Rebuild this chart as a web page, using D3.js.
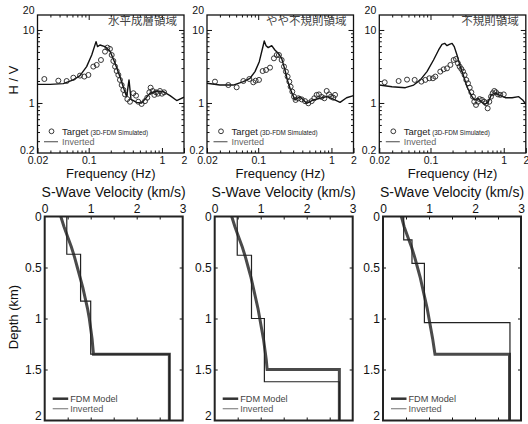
<!DOCTYPE html>
<html><head><meta charset="utf-8">
<script src="https://cdn.jsdelivr.net/npm/d3@7"></script>
<style>body{margin:0;background:#fff} svg{display:block;font-family:"Liberation Sans",Arial,sans-serif}</style>
</head><body><svg id="c" width="528" height="424"></svg>
<script>
// ---------- data ----------
const regionNames = ["水平成層領域", "やや不規則領域", "不規則領域"];
const freqTickValues = [0.02, 0.1, 1, 2];
const freqTickLabels = ["0.02", "0.1", "1", "2"];
const hvTickValues = [0.2, 1, 10, 20];
const hvTickLabels = ["0.2", "1", "10", "20"];
const velTickValues = [0, 1, 2, 3];
const depthTickValues = [0, 0.5, 1, 1.5, 2];
const depthTickLabels = ["0", "0.5", "1", "1.5", "2"];

const targetFreq1 = [0.0248,0.0385,0.05,0.0617,0.076,0.087,0.099,0.1156,0.1285,0.147,0.167,0.18,0.195,0.206,0.217,0.229,0.241,0.254,0.267,0.282,0.297,0.313,0.337,0.366,0.407,0.443,0.475,0.528,0.587,0.63,0.673,0.70,0.746,0.787,0.83,0.883,0.94,1.0,1.07];
const targetHV1 = [2.13,2.02,2.0,2.22,2.37,2.3,2.42,3.15,3.32,3.88,5.05,5.73,5.5,4.54,3.76,3.15,2.74,2.42,2.07,1.76,1.51,1.31,1.13,1.04,1.36,1.26,1.04,0.97,1.06,1.18,1.4,1.62,1.46,1.29,1.4,1.34,1.46,1.34,1.4];
const invFreq1 = [0.02,0.0297,0.045,0.0617,0.076,0.0937,0.11,0.126,0.132,0.1426,0.167,0.195,0.229,0.267,0.306,0.33,0.355,0.378,0.452,0.528,0.587,0.687,0.848,1.045,1.29,1.59,2.0];
const invHV1 = [1.8,1.8,1.84,2.07,2.37,3.15,4.54,6.92,5.91,6.23,5.91,5.16,3.49,2.29,1.51,1.22,2.07,1.12,1.02,1.0,1.13,1.36,1.46,1.43,1.26,1.08,1.2];

const targetFreq2 = [0.0257,0.0391,0.0508,0.0627,0.0757,0.0857,0.0923,0.1025,0.115,0.128,0.145,0.164,0.179,0.192,0.209,0.225,0.239,0.252,0.266,0.277,0.292,0.308,0.324,0.353,0.392,0.436,0.483,0.537,0.583,0.628,0.676,0.735,0.80,0.861,0.927,0.986,1.06,1.12];
const targetHV2 = [1.96,1.76,1.64,2.0,2.13,1.92,2.02,2.07,2.74,2.83,3.05,4.09,4.54,4.54,3.88,3.15,2.69,2.3,1.96,1.67,1.43,1.22,1.1,1.16,1.12,1.06,0.99,1.06,1.16,1.29,1.31,1.21,1.16,1.46,1.31,1.22,1.18,1.29];
const invFreq2 = [0.02,0.030,0.0457,0.0627,0.0773,0.0904,0.1035,0.1175,0.121,0.128,0.137,0.153,0.169,0.188,0.209,0.232,0.25,0.272,0.296,0.318,0.372,0.459,0.566,0.698,0.861,1.06,1.31,1.61,2.0];
const invHV2 = [1.86,1.76,1.76,1.96,2.18,2.69,3.68,6.23,7.07,6.1,5.73,6.1,5.32,4.79,4.09,2.83,2.07,1.59,1.29,1.1,1.22,0.99,1.1,1.16,1.22,1.13,1.02,1.18,1.26];

const targetFreq3 = [0.0237,0.0367,0.0478,0.0608,0.075,0.0849,0.0964,0.108,0.1164,0.136,0.151,0.168,0.187,0.207,0.223,0.237,0.25,0.264,0.278,0.292,0.308,0.325,0.343,0.361,0.38,0.396,0.418,0.445,0.469,0.505,0.543,0.573,0.603,0.635,0.67,0.706,0.743,0.783,0.834,0.897,1.0];
const targetHV3 = [1.92,2.0,2.09,2.07,1.96,2.07,2.18,2.18,2.3,2.69,2.89,2.98,3.32,3.88,4.0,3.49,3.15,2.92,2.69,2.42,2.07,1.86,1.62,1.4,1.22,1.04,0.94,1.04,1.13,1.1,1.04,0.99,0.845,1.04,1.22,1.36,1.46,1.4,1.31,1.29,1.31];
const invFreq3 = [0.02,0.0298,0.0453,0.0589,0.0726,0.0895,0.110,0.129,0.1435,0.156,0.168,0.181,0.197,0.211,0.23,0.255,0.284,0.315,0.343,0.369,0.396,0.445,0.494,0.548,0.61,0.676,0.767,0.897,1.05,1.3,1.6,1.81,2.0];
const invHV3 = [1.76,1.67,1.62,1.76,2.07,2.69,3.88,5.32,6.36,6.56,6.1,6.36,6.56,5.91,4.54,3.15,2.3,1.67,1.4,1.22,1.1,1.16,1.04,0.96,1.02,1.29,1.36,1.26,1.18,1.18,1.22,1.1,0.96];

const fdmDepth1 = [0,0.1,0.2,0.3,0.4,0.5,0.6,0.7,0.8,0.9,1.0,1.1,1.2,1.35,1.35,2.0];
const fdmVel1 = [0.35,0.42,0.5,0.58,0.65,0.71,0.77,0.83,0.88,0.93,0.97,1.0,1.03,1.06,2.71,2.71];
const fdmDepth2 = [0,0.1,0.2,0.3,0.4,0.5,0.6,0.7,0.8,0.9,1.0,1.1,1.2,1.3,1.4,1.5,1.5,2.0];
const fdmVel2 = [0.37,0.44,0.52,0.6,0.67,0.73,0.79,0.84,0.89,0.94,0.98,1.02,1.06,1.09,1.12,1.14,2.71,2.71];
const fdmDepth3 = [0,0.1,0.2,0.3,0.4,0.5,0.6,0.7,0.8,0.9,1.0,1.1,1.2,1.35,1.35,2.0];
const fdmVel3 = [0.40,0.46,0.54,0.62,0.69,0.75,0.81,0.86,0.91,0.96,1.0,1.04,1.08,1.13,2.75,2.75];

const invTop1 = [0,0.37,0.83,1.35,2.0], invVel1 = [0.48,0.78,1.0,2.71];
const invTop2 = [0,0.38,1.0,1.62,2.0], invVel2 = [0.49,0.80,1.08,2.71];
const invTop3 = [0,0.23,0.46,1.04,2.0], invVel3 = [0.45,0.63,0.9,2.76];

// ---------- layout ----------
const svg = d3.select("#c");
const topLefts = [37.5, 207, 379.3], topW = 146.5, topY0 = 15, topY1 = 153;
const botLefts = [44.7, 214.7, 383], botW = 138, botY0 = 216.5, botY1 = 420.5;
const CJK = '"Noto Sans CJK JP","Noto Sans CJK SC",sans-serif';

function styleAxis(g, fs) {
  g.select(".domain").remove();
  g.selectAll(".tick line").attr("stroke", "#111").attr("stroke-width", 1);
  g.selectAll(".tick text").attr("font-size", fs).attr("fill", "#111")
    .attr("font-family", '"Liberation Sans",Arial,sans-serif');
}

function drawTop(i, tf, th, inf, inh) {
  const L = topLefts[i], R = L + topW;
  const x = d3.scaleLog().domain([0.02, 2]).range([L, R]);
  const y = d3.scaleLog().domain([0.2, 20]).range([154, 8]);
  const g = svg.append("g");
  const cid = "clipT" + i;
  svg.append("clipPath").attr("id", cid).append("rect")
    .attr("x", L).attr("y", topY0).attr("width", topW).attr("height", topY1 - topY0);

  const minorX = [0.03,0.04,0.05,0.06,0.07,0.08,0.09,0.2,0.3,0.4,0.5,0.6,0.7,0.8,0.9];
  const minorY = [0.3,0.4,0.5,0.6,0.7,0.8,0.9,2,3,4,5,6,7,8,9];
  g.append("g").attr("transform", `translate(0,${topY1})`)
    .call(d3.axisBottom(x).tickValues(freqTickValues).tickFormat((d, k) => freqTickLabels[k]).tickSize(-5).tickPadding(4))
    .call(a => styleAxis(a, 10.5));
  g.append("g").attr("transform", `translate(0,${topY1})`)
    .call(d3.axisBottom(x).tickValues(minorX).tickFormat("").tickSize(-2.5)).call(a => styleAxis(a, 0));
  g.append("g").attr("transform", `translate(0,${topY0})`)
    .call(d3.axisTop(x).tickValues([0.1, 1]).tickFormat("").tickSize(-5)).call(a => styleAxis(a, 0));
  g.append("g").attr("transform", `translate(0,${topY0})`)
    .call(d3.axisTop(x).tickValues(minorX).tickFormat("").tickSize(-2.5)).call(a => styleAxis(a, 0));
  const ya = g.append("g").attr("transform", `translate(${L},0)`)
    .call(d3.axisLeft(y).tickValues(hvTickValues).tickFormat((d, k) => hvTickLabels[k]).tickSize(-5).tickPadding(3))
    .call(a => styleAxis(a, 10.5));
  ya.selectAll(".tick").filter(d => d === 20 || d === 0.2).select("line").remove();
  ya.selectAll(".tick").filter(d => d === 20).attr("transform", "translate(0,10.5)");
  ya.selectAll(".tick").filter(d => d === 0.2).attr("transform", "translate(0,151)");
  g.append("g").attr("transform", `translate(${L},0)`)
    .call(d3.axisLeft(y).tickValues(minorY).tickFormat("").tickSize(-2.5)).call(a => styleAxis(a, 0));
  g.append("g").attr("transform", `translate(${R},0)`)
    .call(d3.axisRight(y).tickValues([1, 10]).tickFormat("").tickSize(-5)).call(a => styleAxis(a, 0));
  g.append("g").attr("transform", `translate(${R},0)`)
    .call(d3.axisRight(y).tickValues(minorY).tickFormat("").tickSize(-2.5)).call(a => styleAxis(a, 0));

  const line = d3.line().x(d => x(d[0])).y(d => y(d[1]));
  g.append("path").attr("clip-path", `url(#${cid})`)
    .attr("d", line(inf.map((f, k) => [f, inh[k]])))
    .attr("fill", "none").attr("stroke", "#111").attr("stroke-width", 1.4).attr("stroke-linejoin", "round");
  g.append("g").selectAll("circle").data(tf.map((f, k) => [f, th[k]])).join("circle")
    .attr("cx", d => x(d[0])).attr("cy", d => y(d[1])).attr("r", 2.5)
    .attr("fill", "none").attr("stroke", "#222").attr("stroke-width", 0.9);

  g.append("rect").attr("x", L).attr("y", topY0).attr("width", topW).attr("height", topY1 - topY0)
    .attr("fill", "none").attr("stroke", "#111").attr("stroke-width", 1.3);

  g.append("text").attr("x", R - 7).attr("y", 25).attr("text-anchor", "end")
    .attr("font-family", CJK).attr("font-size", 11.5).attr("fill", "#444").text(regionNames[i]);

  g.append("circle").attr("cx", L + 14).attr("cy", 131.3).attr("r", 2.4)
    .attr("fill", "none").attr("stroke", "#222").attr("stroke-width", 0.9);
  const t = g.append("text").attr("x", L + 24.5).attr("y", 134.6).attr("font-size", 9.5).attr("fill", "#222");
  t.append("tspan").text("Target");
  t.append("tspan").attr("dx", 2).attr("font-size", 6.3).text("(3D-FDM Simulated)");
  g.append("line").attr("x1", L + 6.5).attr("x2", L + 20.5).attr("y1", 141.7).attr("y2", 141.7)
    .attr("stroke", "#666").attr("stroke-width", 1.2);
  g.append("text").attr("x", L + 24.5).attr("y", 145).attr("font-size", 9).attr("fill", "#666").text("Inverted");

  g.append("text").attr("x", (L + R) / 2).attr("y", 178).attr("text-anchor", "middle")
    .attr("font-size", 13).attr("fill", "#111").text("Frequency (Hz)");
}

function drawBottom(i, fd, fv, it, iv) {
  const L = botLefts[i], R = L + botW;
  const x = d3.scaleLinear().domain([0, 3]).range([L, R]);
  const y = d3.scaleLinear().domain([0, 2]).range([botY0, botY1]);
  const g = svg.append("g");
  const halfTicks = [0.5, 1, 1.5, 2, 2.5];

  g.append("g").attr("transform", `translate(0,${botY0})`)
    .call(d3.axisTop(x).tickValues(velTickValues).tickFormat(d3.format("d")).tickSize(0).tickPadding(4))
    .call(a => styleAxis(a, 12));
  g.append("g").attr("transform", `translate(0,${botY0})`)
    .call(d3.axisTop(x).tickValues(halfTicks).tickFormat("").tickSize(-3)).call(a => styleAxis(a, 0));
  g.append("g").attr("transform", `translate(0,${botY1})`)
    .call(d3.axisBottom(x).tickValues(halfTicks).tickFormat("").tickSize(-3)).call(a => styleAxis(a, 0));
  const la = g.append("g").attr("transform", `translate(${L},0)`)
    .call(d3.axisLeft(y).tickValues(depthTickValues).tickFormat((d, k) => depthTickLabels[k]).tickSize(0).tickPadding(3))
    .call(a => styleAxis(a, 12));
  la.selectAll(".tick").filter(d => d === 2).select("text").attr("dy", "-0.05em");
  g.append("g").attr("transform", `translate(${L},0)`)
    .call(d3.axisLeft(y).tickValues([0.5, 1, 1.5]).tickFormat("").tickSize(-3)).call(a => styleAxis(a, 0));
  g.append("g").attr("transform", `translate(${R},0)`)
    .call(d3.axisRight(y).tickValues([0.5, 1, 1.5]).tickFormat("").tickSize(-3)).call(a => styleAxis(a, 0));

  const line = d3.line().x(d => x(d[0])).y(d => y(d[1]));
  g.append("path").attr("d", line(fd.map((d, k) => [fv[k], d])))
    .attr("fill", "none").attr("stroke", "#4a4a4a").attr("stroke-width", 3).attr("stroke-linejoin", "miter");
  const pts = [];
  iv.forEach((v, k) => { pts.push([v, it[k]]); pts.push([v, it[k + 1]]); });
  g.append("path").attr("d", line(pts))
    .attr("fill", "none").attr("stroke", "#222").attr("stroke-width", 1.2);

  g.append("rect").attr("x", L).attr("y", botY0).attr("width", botW).attr("height", botY1 - botY0)
    .attr("fill", "none").attr("stroke", "#222").attr("stroke-width", 2);

  g.append("line").attr("x1", L + 8).attr("x2", L + 23.5).attr("y1", 398.7).attr("y2", 398.7)
    .attr("stroke", "#333").attr("stroke-width", 2.5);
  g.append("text").attr("x", L + 25.5).attr("y", 402).attr("font-size", 9.2).attr("fill", "#444").text("FDM Model");
  g.append("line").attr("x1", L + 8).attr("x2", L + 23.5).attr("y1", 408.7).attr("y2", 408.7)
    .attr("stroke", "#888").attr("stroke-width", 1.2);
  g.append("text").attr("x", L + 25.5).attr("y", 412).attr("font-size", 9.2).attr("fill", "#555").text("Inverted");

  g.append("text").attr("x", (L + R) / 2).attr("y", 197).attr("text-anchor", "middle")
    .attr("font-size", 14).attr("fill", "#111").text("S-Wave Velocity (km/s)");
}

drawTop(0, targetFreq1, targetHV1, invFreq1, invHV1);
drawTop(1, targetFreq2, targetHV2, invFreq2, invHV2);
drawTop(2, targetFreq3, targetHV3, invFreq3, invHV3);
drawBottom(0, fdmDepth1, fdmVel1, invTop1, invVel1);
drawBottom(1, fdmDepth2, fdmVel2, invTop2, invVel2);
drawBottom(2, fdmDepth3, fdmVel3, invTop3, invVel3);

svg.append("text").attr("transform", "translate(13,80) rotate(-90)").attr("text-anchor", "middle")
  .attr("dominant-baseline", "central").attr("font-size", 13).attr("fill", "#111").text("H / V");
svg.append("text").attr("transform", "translate(13,317) rotate(-90)").attr("text-anchor", "middle")
  .attr("dominant-baseline", "central").attr("font-size", 13).attr("fill", "#111").text("Depth (km)");
</script></body></html>
